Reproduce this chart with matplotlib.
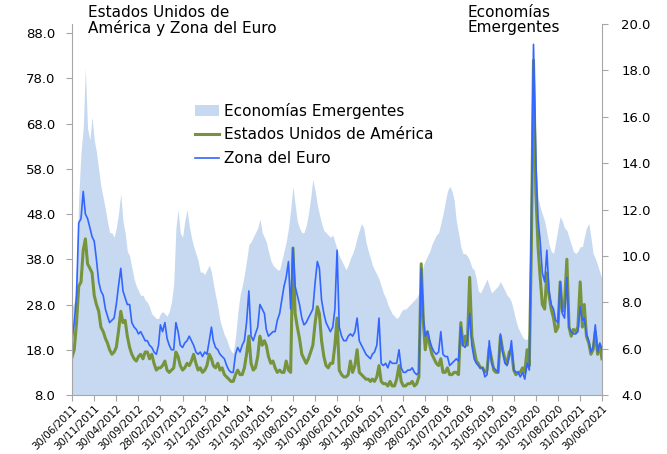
import numpy as np
import matplotlib
matplotlib.use("Agg")
import matplotlib.pyplot as plt
from matplotlib.patches import Patch
from matplotlib.lines import Line2D

plt.rcParams['font.family'] = ['DejaVu Sans']

# ---- data (semi-monthly: 30/06/2011, 15/07/2011, 31/07/2011, ... 30/06/2021) ----
us_vol = [16.4,
    18, 24, 32, 33, 40, 42.5, 37, 36, 35, 30,
    28, 26.5, 23, 22, 20.5, 19.5, 18, 17, 17.5, 18.5,
    22, 26.5, 24, 24.5, 21, 18.5, 17, 16, 15.5, 16.5,
    17, 16, 17.5, 17.5, 16, 17, 15, 13.5, 14, 14,
    14.5, 15.5, 13.5, 13, 13.5, 14, 17.5, 16.5, 14.5, 13.5,
    14, 15, 14.5, 15.5, 17, 15, 13.5, 14, 13, 13.5,
    14.5, 17, 16, 14.5, 14, 15, 13.5, 14, 12.5, 12,
    11.5, 11, 11, 12.5, 13.5, 12.5, 12.5, 14, 17, 21,
    15, 13.5, 14, 16.5, 21, 19, 20, 19, 16.5, 15,
    15.5, 14, 13, 13.5, 13, 13, 15.5, 13.5, 13, 40.5,
    26, 23, 20.5, 17, 16, 15, 16, 17.5, 19, 24,
    27.5, 26, 20, 16.5, 14.5, 14, 15, 15, 19, 25,
    13.5, 12.5, 12, 12, 12.5, 15.5, 13, 14.5, 18, 13,
    12.5, 12, 11.5, 11.5, 11, 11.5, 11, 12, 14.5, 11,
    10.5, 10.5, 10, 11, 10, 10, 11.5, 14.5, 11, 10,
    10, 10.5, 10.5, 11, 10, 10.5, 12, 37, 24, 18,
    22, 19, 17, 16, 15, 14.5, 16, 13, 13, 14,
    12.5, 12.5, 13, 13, 12.5, 24, 19, 21, 19, 34,
    21, 18, 15.5, 15, 14, 14, 13, 13.5, 18.5, 16,
    13.5, 13, 13, 21, 18, 16, 15, 17.5, 18, 13.5,
    12.5, 13, 13, 14, 13, 18, 14.5, 40, 82, 53,
    41, 34, 28, 27, 35, 30, 27, 25, 22, 23,
    33, 26.5, 28, 38, 23, 21, 22.5, 22, 23, 33,
    23, 28, 21, 19.5, 17, 18, 22, 17, 19, 16]

eu_vol = [20,
    24, 30, 46, 47, 53, 48, 47, 45, 43, 42,
    38, 33, 31, 30, 27, 25.5, 24, 24.5, 25, 28,
    32, 36, 31, 29.5, 28, 28, 24, 23, 22.5, 21.5,
    22, 21, 20, 20, 19, 18.5, 17.5, 17, 19, 23.5,
    22, 24, 20.5, 19, 18, 18, 24, 22, 19, 18.5,
    19.5, 20, 21, 20, 19, 17.5, 17, 17.5, 16.5, 17.5,
    17, 20, 23, 20, 18.5, 18, 17, 16.5, 16, 14.5,
    13.5, 13, 13, 17, 18.5, 17.5, 19, 20, 24, 31,
    21, 20, 21.5, 23, 28, 27, 26, 22.5, 21, 21.5,
    22, 22, 24.5, 26, 29, 32, 34, 37.5, 27, 40.5,
    32, 30, 28, 25, 23.5, 24, 25, 26, 27, 33,
    37.5, 36, 29, 26, 24, 23, 22, 23, 27, 40,
    23, 21, 20, 20, 21, 21.5, 21, 22, 25, 20,
    19, 18, 17, 16.5, 16, 17, 17.5, 19, 25, 15,
    14.5, 15, 14, 15.5, 15, 15, 15, 18, 14, 13,
    13, 13.5, 13.5, 14, 13, 12.5, 13, 36, 25, 21,
    22, 20, 18.5, 17.5, 17, 17.5, 22, 17, 16.5, 16.5,
    14.5, 15, 15.5, 16, 15.5, 23, 19, 18.5, 20, 26,
    19, 16, 15, 14.5, 14, 14, 12, 12.5, 20, 15,
    14, 13.5, 13, 21.5, 17.5, 15, 14.5, 16.5, 20, 13.5,
    13, 13, 12, 13, 11.5, 15, 13.5, 45, 85.5, 60,
    47, 42, 35, 33, 40, 31, 28, 27, 24.5, 24,
    33, 26, 25, 34, 23, 22, 21.5, 21.5, 22, 27.5,
    24.5, 25, 21.5, 20, 17.5, 18.5, 23.5, 17.5, 19.5, 18]

em_vol = [7.8,
    8, 9.5, 12.5, 14.5, 15.5, 18.1, 15.5, 15, 16, 15,
    14.5, 13.7, 13, 12.5, 12, 11.5, 11, 11, 10.8, 11.2,
    11.8, 12.7, 11.5, 11, 10.2, 10, 9.5, 9, 8.7, 8.5,
    8.3, 8.3, 8.1, 8, 7.8, 7.5, 7.4, 7.3, 7.3, 7.5,
    7.6, 7.5, 7.4, 7.6, 8, 8.8, 11.2, 12, 11, 10.8,
    11.5, 12, 11.3, 10.8, 10.4, 10.1, 9.8, 9.3, 9.3, 9.2,
    9.4, 9.6, 9.3, 8.8, 8.3, 7.8, 7.2, 6.9, 6.6, 6.4,
    6.1, 5.9, 5.8, 6.5, 7.5, 8.3, 8.7, 9.2, 9.8, 10.5,
    10.6, 10.8, 11, 11.2, 11.6, 11, 10.8, 10.6, 10.2, 9.8,
    9.6, 9.5, 9.4, 9.4, 9.8, 10.2, 10.6, 11.2, 12, 13,
    12.2, 11.5, 11.2, 11, 11, 11.3, 11.8, 12.5, 13.3, 12.8,
    12.2, 11.8, 11.4, 11.1, 11, 10.9, 10.8, 10.9, 10.6, 10.3,
    10, 9.8, 9.6, 9.4, 9.6, 9.9, 10.1, 10.4, 10.8, 11.1,
    11.4, 11.2, 10.6, 10.2, 9.9, 9.6, 9.4, 9.2, 9, 8.7,
    8.4, 8.2, 7.9, 7.7, 7.5, 7.4, 7.3, 7.4, 7.6, 7.7,
    7.7, 7.8, 7.9, 8, 8.1, 8.2, 8.4, 9.2, 9.6, 9.8,
    10, 10.2, 10.5, 10.7, 10.9, 11, 11.4, 11.8, 12.3, 12.8,
    13, 12.8, 12.4, 11.5, 11, 10.4, 10.1, 10.1, 10, 9.8,
    9.5, 9.4, 9, 8.5, 8.4, 8.6, 8.8, 9, 8.7, 8.4,
    8.5, 8.6, 8.7, 8.9, 8.7, 8.5, 8.3, 8.2, 8, 7.6,
    7.2, 6.9, 6.7, 6.5, 6.4, 6.4, 6.8, 10.5, 17.5, 14,
    12.5, 12.1, 11.8, 11.5, 11, 10.5, 10.2, 10.1, 10.6, 11.2,
    11.7, 11.5, 11.2, 11.1, 10.8, 10.5, 10.2, 10.1, 10.2, 10.4,
    10.4, 10.8, 11.2, 11.4, 10.8, 10.1, 9.9, 9.6, 9.3, 9]

x_tick_labels = ['30/06/2011', '30/11/2011', '30/04/2012', '30/09/2012', '28/02/2013',
                 '31/07/2013', '31/12/2013', '31/05/2014', '31/10/2014', '31/03/2015',
                 '31/08/2015', '31/01/2016', '30/06/2016', '30/11/2016', '30/04/2017',
                 '30/09/2017', '28/02/2018', '31/07/2018', '31/12/2018', '31/05/2019',
                 '31/10/2019', '31/03/2020', '31/08/2020', '31/01/2021', '30/06/2021']
left_ticks = [8, 18, 28, 38, 48, 58, 68, 78, 88]
right_ticks = [4, 6, 8, 10, 12, 14, 16, 18, 20]

series_names = ['Economías Emergentes', 'Estados Unidos de América', 'Zona del Euro']

# ---- dates ----
months = np.arange(np.datetime64('2011-06'), np.datetime64('2021-07'), dtype='datetime64[M]')
dates = []
for i, mth in enumerate(months):
    if i > 0:
        dates.append(mth.astype('datetime64[D]') + np.timedelta64(14, 'D'))
    dates.append((mth + 1).astype('datetime64[D]') - np.timedelta64(1, 'D'))
dates = np.array(dates, dtype='datetime64[D]')

tick_dates = np.array([np.datetime64('%s-%s-%s' % (s[6:], s[3:5], s[0:2])) for s in x_tick_labels])

# ---- figure ----
fig = plt.figure(figsize=(6.67, 4.54), dpi=100)
ax = fig.add_axes([0.108, 0.13, 0.7945, 0.817])
ax2 = ax.twinx()

c_area = '#C6D9F1'
c_us = '#77933C'
c_eu = '#3366FF'
c_axis = '#A6A6A6'

ax2.fill_between(dates, 4, em_vol, color=c_area, lw=0)
ax.set_zorder(ax2.get_zorder() + 1)
ax.patch.set_visible(False)

ax.plot(dates, us_vol, color=c_us, lw=2.2)
ax.plot(dates, eu_vol, color=c_eu, lw=1.2)

ax.set_ylim(8, 90)
ax.set_yticks(left_ticks)
ax.set_yticklabels(['%.1f' % v for v in left_ticks])
ax2.set_ylim(4, 20.0)
ax2.set_yticks(right_ticks)
ax2.set_yticklabels(['%.1f' % v for v in right_ticks])

ax.set_xlim(dates[0], dates[-1])
ax.set_xticks(tick_dates)
ax.set_xticklabels(x_tick_labels, rotation=45, ha='right', va='top',
                   rotation_mode='anchor', fontsize=7.4)

for a in (ax, ax2):
    a.spines['top'].set_visible(False)
    for s in ('left', 'right', 'bottom'):
        a.spines[s].set_color(c_axis)
ax.spines['right'].set_visible(False)
ax2.spines['left'].set_visible(False)
ax2.spines['bottom'].set_visible(False)

ax.tick_params(axis='y', length=4, color=c_axis, labelsize=9.5, pad=8)
ax2.tick_params(axis='y', length=4, color=c_axis, labelsize=9.5, pad=10)
ax.tick_params(axis='x', length=4, color=c_axis, pad=2)

handles = [Patch(facecolor=c_area, edgecolor='none'),
           Line2D([], [], color=c_us, lw=2.2),
           Line2D([], [], color=c_eu, lw=1.2)]
fig.legend(handles, series_names, loc='upper left', bbox_to_anchor=(0.292, 0.774),
           frameon=False, fontsize=11, handlelength=1.6, handletextpad=0.3,
           labelspacing=0.58, borderaxespad=0, borderpad=0)

fig.text(0.132, 0.99, 'Estados Unidos de\nAmérica y Zona del Euro', ha='left', va='top',
         fontsize=11, linespacing=1.05)
fig.text(0.701, 0.99, 'Economías\nEmergentes', ha='left', va='top',
         fontsize=11, linespacing=1.05)

fig.savefig('out.png', dpi=100, facecolor='white')
